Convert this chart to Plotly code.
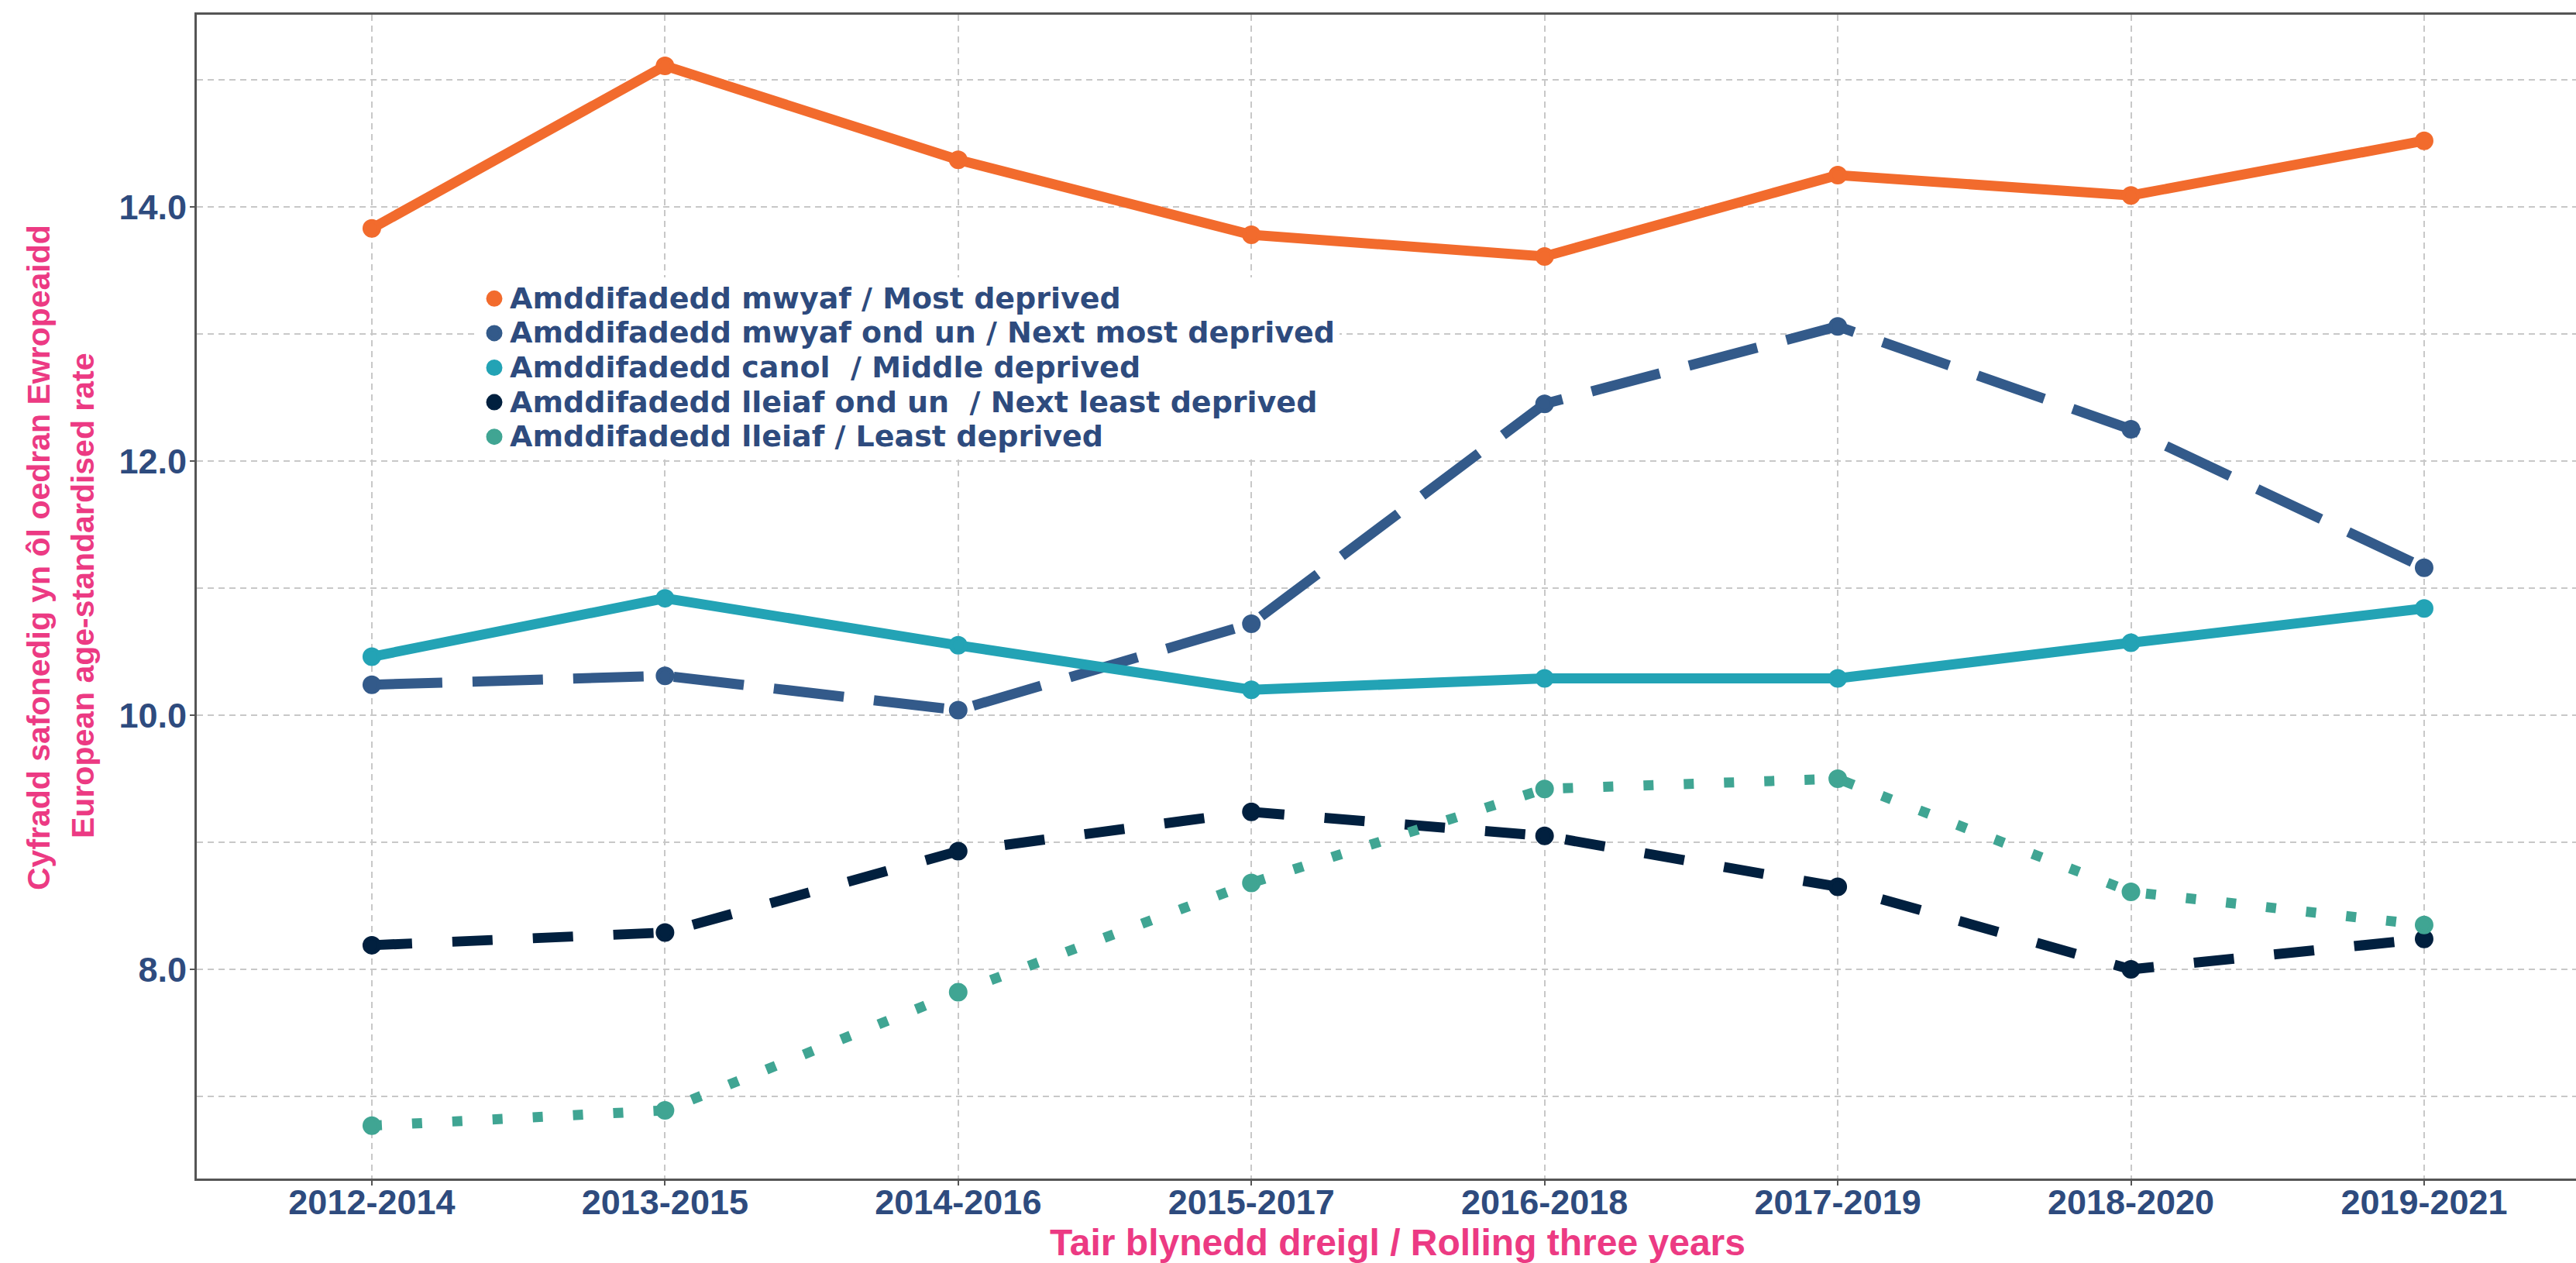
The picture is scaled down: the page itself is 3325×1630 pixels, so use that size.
import plotly.graph_objects as go

# ---- data ----
periods = ["2012-2014", "2013-2015", "2014-2016", "2015-2017",
           "2016-2018", "2017-2019", "2018-2020", "2019-2021"]
most_deprived = [13.83, 15.11, 14.37, 13.78, 13.61, 14.25, 14.09, 14.52]
next_most_deprived = [10.24, 10.31, 10.04, 10.72, 12.45, 13.06, 12.25, 11.16]
middle_deprived = [10.46, 10.92, 10.55, 10.20, 10.29, 10.29, 10.57, 10.84]
next_least_deprived = [8.19, 8.29, 8.93, 9.24, 9.05, 8.65, 8.00, 8.24]
least_deprived = [6.77, 6.89, 7.82, 8.68, 9.42, 9.50, 8.61, 8.35]

series_names = [
    "Amddifadedd mwyaf / Most deprived",
    "Amddifadedd mwyaf ond un / Next most deprived",
    "Amddifadedd canol  / Middle deprived",
    "Amddifadedd lleiaf ond un  / Next least deprived",
    "Amddifadedd lleiaf / Least deprived",
]
series_values = [most_deprived, next_most_deprived, middle_deprived,
                 next_least_deprived, least_deprived]

x_title = "Tair blynedd dreigl / Rolling three years"
y_title_1 = "Cyfradd safonedig yn ôl oedran Ewropeaidd"
y_title_2 = "European age-standardised rate"

# ---- styles ----
colors = ["#F26B2D", "#335A8A", "#23A3B5", "#01203F", "#40A593"]
dashes = ["solid", "91px,39px", "solid", "52px,52px", "13px,39px"]
FONT = "Liberation Sans, Arial, Helvetica, sans-serif"
WIDE_FONT = "DejaVu Sans, Verdana, sans-serif"
TEXT_BLUE = "#2E4B7E"
PINK = "#EC3A83"
LW = 13

W, H = 3325, 1630
ML, MR, MT, MB = 254, 0, 19, 109
PW = W - ML - MR
PH = H - MT - MB


def px_to_paper_x(px):
    return (px - ML) / PW


def px_to_paper_y(py):
    return (H - MB - py) / PH


fig = go.Figure()

# lines first (like ggplot geom_line), then points
for name, vals, col, dash in zip(series_names, series_values, colors, dashes):
    fig.add_trace(go.Scatter(
        x=periods, y=vals, mode="lines", name=name,
        line=dict(color=col, width=LW, dash=dash),
        showlegend=False, legendgroup=name, hoverinfo="skip",
    ))

for name, vals, col in zip(series_names, series_values, colors):
    fig.add_trace(go.Scatter(
        x=periods, y=vals, mode="markers",
        name=f'<span style="font-size:38px">{name}</span>',
        marker=dict(color=col, size=19, line=dict(color=col, width=5)),
        legendgroup=name,
    ))

grid_col = "#C8C8C8"
axis_col = "#555555"

fig.update_layout(
    width=W, height=H,
    margin=dict(l=ML, r=MR, t=MT, b=MB, pad=0),
    paper_bgcolor="white", plot_bgcolor="white",
    font=dict(family=FONT, color=TEXT_BLUE),
    showlegend=True,
    legend=dict(
        x=px_to_paper_x(618), y=px_to_paper_y(358),
        xanchor="left", yanchor="top",
        bgcolor="white", borderwidth=0,
        font=dict(family=WIDE_FONT, size=32, color=TEXT_BLUE, weight="bold"),
        traceorder="normal", itemsizing="trace",
    ),
    xaxis=dict(
        type="category",
        range=[-0.597, 7.518],
        showgrid=True, gridcolor=grid_col, gridwidth=2, griddash="8px,6px",
        showline=True, linecolor=axis_col, linewidth=3, mirror=True,
        ticks="outside", ticklen=6, tickwidth=2, tickcolor=axis_col,
        ticklabelstandoff=-17,
        tickfont=dict(family=FONT, size=45, color=TEXT_BLUE, weight="bold"),
        zeroline=False,
    ),
    yaxis=dict(
        range=[6.354, 15.512],
        tick0=8, dtick=2, tickformat=".1f",
        showgrid=True, gridcolor=grid_col, gridwidth=2, griddash="8px,6px",
        minor=dict(dtick=1, tick0=7, showgrid=True, gridcolor=grid_col,
                   gridwidth=2, griddash="8px,6px", ticks=""),
        showline=True, linecolor=axis_col, linewidth=3, mirror=False,
        ticks="outside", ticklen=6, tickwidth=2, tickcolor=axis_col,
        ticklabelstandoff=-5,
        tickfont=dict(family=FONT, size=45, color=TEXT_BLUE, weight="bold"),
        zeroline=False,
    ),
)

fig.add_annotation(
    text=x_title, xref="paper", yref="paper",
    x=px_to_paper_x(1804), y=px_to_paper_y(1603),
    xanchor="center", yanchor="middle", showarrow=False,
    font=dict(family=FONT, size=48, color=PINK, weight="bold"),
)
fig.add_annotation(
    text=y_title_1, xref="paper", yref="paper",
    x=px_to_paper_x(50), y=px_to_paper_y(720),
    xanchor="center", yanchor="middle", showarrow=False, textangle=-90,
    font=dict(family=FONT, size=41, color=PINK, weight="bold"),
)
fig.add_annotation(
    text=y_title_2, xref="paper", yref="paper",
    x=px_to_paper_x(107), y=px_to_paper_y(769),
    xanchor="center", yanchor="middle", showarrow=False, textangle=-90,
    font=dict(family=FONT, size=41, color=PINK, weight="bold"),
)

fig.write_html(
    "out.html",
    config={"displayModeBar": False},
    post_script="document.body.style.margin='0';"
                "document.body.style.overflow='hidden';",
)
